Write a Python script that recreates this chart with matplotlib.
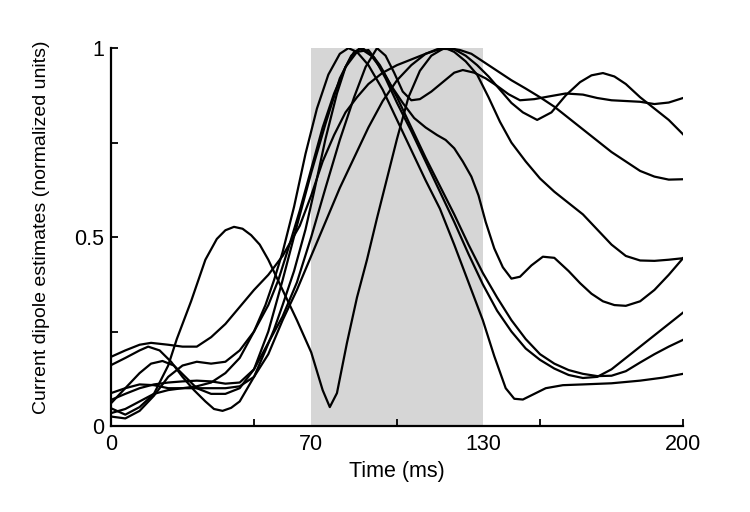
import matplotlib.pyplot as plt

# time axis labels / ticks
x_tick_pos = [0, 50, 100, 150, 200]
x_label_pos = [0, 70, 130, 200]
x_label_txt = ['0', '70', '130', '200']
y_tick_pos = [0, 0.25, 0.5, 0.75, 1]
y_tick_txt = ['0', '', '0.5', '', '1']
shade = (70, 130)

# curves (time in ms, normalized amplitude)
t_a = [0, 5, 10, 15, 20, 23, 28, 33, 37, 40, 43, 46, 49, 52, 55, 60, 65, 70, 74, 76.5, 79, 82.5, 86, 89.5,
       93, 96, 100, 104, 108, 112, 116, 120, 124, 128, 132, 136, 140, 144, 149, 154, 159, 164, 168, 172,
       176, 180, 185, 190, 195, 200]
v_a = [0.047, 0.03, 0.05, 0.085, 0.16, 0.23, 0.33, 0.44, 0.495, 0.518, 0.527, 0.522, 0.505, 0.48, 0.44,
       0.36, 0.28, 0.195, 0.095, 0.05, 0.087, 0.22, 0.34, 0.44, 0.55, 0.64, 0.76, 0.87, 0.94, 0.98, 0.998,
       0.997, 0.98, 0.955, 0.925, 0.89, 0.855, 0.83, 0.81, 0.83, 0.875, 0.91, 0.928, 0.934, 0.925, 0.905,
       0.87, 0.84, 0.81, 0.772]

t_b = [0, 5, 10, 14, 20, 25, 30, 35, 40, 45, 50, 55, 60, 66, 70, 74, 78, 82, 86, 90, 95, 100, 105, 110,
       114, 118, 122, 126, 130, 135, 140, 145, 150, 155, 160, 165, 170, 175, 180, 185, 190, 195, 200]
v_b = [0.183, 0.2, 0.215, 0.22, 0.215, 0.21, 0.21, 0.235, 0.27, 0.315, 0.36, 0.40, 0.45, 0.53, 0.61, 0.70,
       0.77, 0.83, 0.87, 0.905, 0.935, 0.955, 0.97, 0.985, 0.995, 1.0, 0.995, 0.985, 0.965, 0.94, 0.915,
       0.893, 0.87, 0.845, 0.815, 0.785, 0.755, 0.725, 0.70, 0.675, 0.66, 0.652, 0.653]

t_c = [0, 5, 10, 13, 17, 21, 25, 29, 33, 36, 39, 42, 45, 50, 54, 57, 60, 64, 68, 71, 75, 79, 82, 85, 88,
       92, 96, 100, 105, 110, 115, 120, 125, 130, 135, 140, 145, 150, 155, 160, 165, 170, 175, 180, 185,
       190, 195, 200]
v_c = [0.161, 0.18, 0.2, 0.21, 0.2, 0.17, 0.13, 0.095, 0.065, 0.045, 0.04, 0.048, 0.065, 0.13, 0.2, 0.255,
       0.32, 0.41, 0.52, 0.62, 0.76, 0.88, 0.95, 0.99, 1.0, 0.975, 0.92, 0.855, 0.78, 0.7, 0.62, 0.54,
       0.455, 0.375, 0.305, 0.25, 0.205, 0.175, 0.152, 0.135, 0.127, 0.13, 0.15, 0.18, 0.21, 0.24, 0.27, 0.30]

t_d = [0, 5, 10, 15, 20, 25, 30, 35, 40, 45, 50, 54, 57, 60, 64, 68, 72, 76, 80, 83, 86, 90, 95, 100,
       105, 110, 115, 120, 125, 130, 134, 138, 141, 144, 148, 152, 158, 165, 175, 185, 193, 200]
v_d = [0.087, 0.1, 0.11, 0.108, 0.1, 0.1, 0.105, 0.115, 0.14, 0.18, 0.25, 0.32, 0.386, 0.46, 0.58, 0.72,
       0.84, 0.93, 0.985, 1.0, 0.99, 0.955, 0.89, 0.81, 0.73, 0.65, 0.575, 0.48, 0.38, 0.28, 0.185, 0.1,
       0.072, 0.07, 0.085, 0.1, 0.108, 0.11, 0.113, 0.12, 0.128, 0.138]

t_e = [0, 5, 10, 15, 20, 25, 30, 35, 40, 45, 50, 55, 58.5, 62, 66, 70, 74, 78, 82, 86, 90, 94, 98, 102,
       106, 110, 114, 117, 120, 123, 126, 128.5, 131, 134, 137, 140, 143, 147, 151, 155, 160, 164, 168,
       172, 176, 180, 185, 190, 195, 200]
v_e = [0.025, 0.02, 0.04, 0.08, 0.13, 0.16, 0.17, 0.165, 0.17, 0.2, 0.25, 0.32, 0.386, 0.47, 0.57, 0.68,
       0.79, 0.88, 0.95, 0.99, 0.995, 0.955, 0.9, 0.855, 0.815, 0.79, 0.77, 0.757, 0.735, 0.70, 0.66, 0.61,
       0.54, 0.47, 0.42, 0.39, 0.395, 0.425, 0.448, 0.445, 0.41, 0.378, 0.35, 0.33, 0.32, 0.318, 0.33,
       0.36, 0.40, 0.444]

t_f = [0, 5, 10, 14, 18, 22, 26, 30, 35, 40, 45, 50, 55, 60, 65, 70, 75, 80, 84, 87, 91, 95, 100, 105,
       110, 115, 120, 125, 130, 135, 140, 145, 150, 155, 160, 165, 170, 175, 180, 185, 190, 195, 200]
v_f = [0.06, 0.1, 0.14, 0.165, 0.172, 0.16, 0.13, 0.1, 0.085, 0.085, 0.1, 0.15, 0.25, 0.386, 0.53, 0.67,
       0.8, 0.92, 0.98, 1.0, 0.98, 0.94, 0.87, 0.79, 0.71, 0.635, 0.56, 0.48, 0.405, 0.34, 0.28, 0.23,
       0.19, 0.165, 0.148, 0.138, 0.132, 0.133, 0.145, 0.168, 0.19, 0.21, 0.228]

t_g = [0, 5, 10, 15, 20, 25, 30, 35, 40, 45, 50, 55, 60, 65, 70, 75, 80, 85, 89, 93, 96, 99, 102, 105,
       108, 112, 116, 120, 123, 127, 131, 135, 139, 143, 148, 153, 159, 165, 170, 175, 180, 185, 190,
       195, 200]
v_g = [0.069, 0.085, 0.1, 0.11, 0.115, 0.118, 0.12, 0.118, 0.112, 0.115, 0.15, 0.22, 0.29, 0.38, 0.5,
       0.63, 0.757, 0.87, 0.95, 1.0, 0.98, 0.935, 0.885, 0.862, 0.865, 0.885, 0.91, 0.935, 0.942, 0.935,
       0.92, 0.9, 0.878, 0.862, 0.865, 0.872, 0.88, 0.877, 0.868, 0.862, 0.86, 0.858, 0.852, 0.856, 0.868]

t_h = [0, 5, 10, 15, 20, 25, 30, 35, 40, 45, 50, 55, 60, 65, 70, 75, 80, 85, 90, 95, 100, 105, 110, 114,
       117, 120, 124, 128, 132, 136, 140, 145, 150, 155, 160, 165, 170, 175, 180, 185, 190, 195, 200]
v_h = [0.034, 0.045, 0.065, 0.085, 0.095, 0.1, 0.1, 0.1, 0.1, 0.105, 0.13, 0.19, 0.28, 0.36, 0.45, 0.54,
       0.63, 0.71, 0.79, 0.86, 0.915, 0.955, 0.985, 0.997, 1.0, 0.99, 0.965, 0.93, 0.87, 0.805, 0.75, 0.70,
       0.655, 0.62, 0.59, 0.56, 0.52, 0.48, 0.45, 0.438, 0.437, 0.44, 0.444]

curves = [(t_a, v_a), (t_b, v_b), (t_c, v_c), (t_d, v_d),
          (t_e, v_e), (t_f, v_f), (t_g, v_g), (t_h, v_h)]

plt.rcParams['font.family'] = ['Liberation Sans Narrow', 'Liberation Sans']
plt.rcParams['font.size'] = 15.5

fig = plt.figure(figsize=(7.5, 5.12), dpi=100)
ax = fig.add_axes([0.148, 0.168, 0.7627, 0.738])

ax.axvspan(shade[0], shade[1], color='#d6d6d6', lw=0, zorder=0)
for t, v in curves:
    ax.plot(t, v, color='black', lw=1.6, solid_joinstyle='round', zorder=2)

ax.set_xlim(0, 200)
ax.set_ylim(0, 1)
for s in ['top', 'right']:
    ax.spines[s].set_visible(False)
for s in ['left', 'bottom']:
    ax.spines[s].set_linewidth(1.6)

# unlabeled ticks every 50 ms, labels at the window edges
ax.xaxis.remove_overlapping_locs = False
ax.set_xticks(x_tick_pos, [''] * len(x_tick_pos))
ax.set_xticks(x_label_pos, x_label_txt, minor=True)
ax.tick_params(axis='x', which='major', direction='in', length=5, width=1.3)
ax.tick_params(axis='x', which='minor', length=0, pad=6)
ax.set_yticks(y_tick_pos, y_tick_txt)
ax.tick_params(axis='y', direction='in', length=5, width=1.3, pad=5)

ax.set_xlabel('Time (ms)', labelpad=4)
ax.set_ylabel('Current dipole estimates (normalized units)', fontsize=14)
ax.yaxis.set_label_coords(-0.107, 0.525)

fig.savefig('out.png', dpi=100)
